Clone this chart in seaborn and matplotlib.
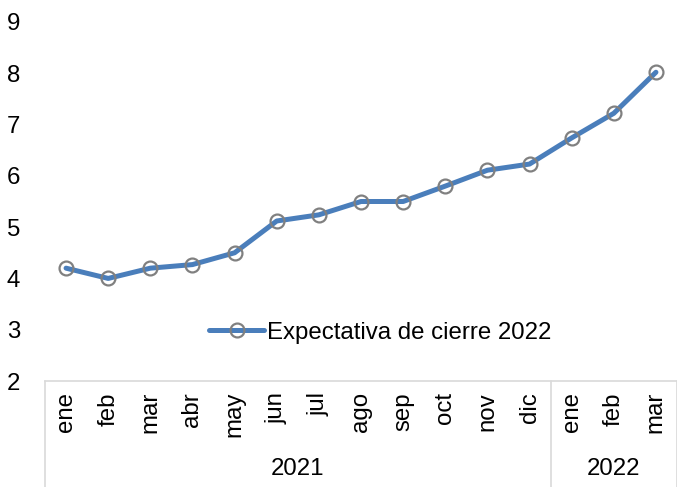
import numpy as np
import pandas as pd
import matplotlib
matplotlib.use("Agg")
import matplotlib.pyplot as plt
import seaborn as sns

# data
months = ["ene", "feb", "mar", "abr", "may", "jun", "jul", "ago", "sep",
          "oct", "nov", "dic", "ene", "feb", "mar"]
years = ["2021"] * 12 + ["2022"] * 3
expectativa = [4.2, 4.0, 4.2, 4.27, 4.5, 5.12, 5.24, 5.5, 5.5,
               5.8, 6.11, 6.23, 6.74, 7.22, 8.02]
series_name = "Expectativa de cierre 2022"

df = pd.DataFrame({"pos": np.arange(len(months)), "mes": months,
                   "anio": years, "valor": expectativa})

sns.set_style("white")
plt.rcParams["font.family"] = ["Liberation Sans", "DejaVu Sans"]
plt.rcParams["text.color"] = "black"
plt.rcParams["xtick.color"] = "black"
plt.rcParams["ytick.color"] = "black"
fs = 17.3

fig = plt.figure(figsize=(6.77, 4.87), dpi=100)
ax = fig.add_axes([45 / 677, (487 - 381) / 487, 632 / 677, 359 / 487])

sns.lineplot(data=df, x="pos", y="valor", ax=ax, color="#4a7ebb",
             linewidth=3.6, marker="o", markersize=10,
             markerfacecolor="none", markeredgecolor="#808080",
             markeredgewidth=1.6, label=series_name)

ax.set_xlim(-0.5, len(months) - 0.5)
ax.set_ylim(2, 9)
ax.set_yticks(range(2, 10))
ax.set_xticks(df["pos"])
ax.set_xticklabels(months, rotation=90, fontsize=fs)
ax.tick_params(axis="y", labelsize=fs, length=0, pad=18)
ax.tick_params(axis="x", length=0, pad=8)
ax.set_xlabel("")
ax.set_ylabel("")
for s in ["top", "right", "left"]:
    ax.spines[s].set_visible(False)
ax.spines["bottom"].set_color("#d9d9d9")
ax.spines["bottom"].set_linewidth(1.2)

# year group separators and labels below the axis
tr = ax.get_xaxis_transform()
ybot = -(487 - 381) / 359
n2021 = years.count("2021")
for xb in [-0.5, n2021 - 0.5, len(months) - 0.5]:
    ax.plot([xb, xb], [0, ybot], transform=tr, color="#d9d9d9",
            linewidth=1.2, clip_on=False)
for yr in ["2021", "2022"]:
    idx = df.index[df["anio"] == yr]
    ax.text((idx.min() + idx.max()) / 2, -0.245, yr, transform=tr,
            ha="center", va="center", fontsize=fs)

leg = ax.legend(loc="center", bbox_to_anchor=(0.53, 0.134), frameon=False,
                fontsize=fs, handlelength=2.3, handletextpad=0.1)

fig.savefig("out.png", dpi=100)
